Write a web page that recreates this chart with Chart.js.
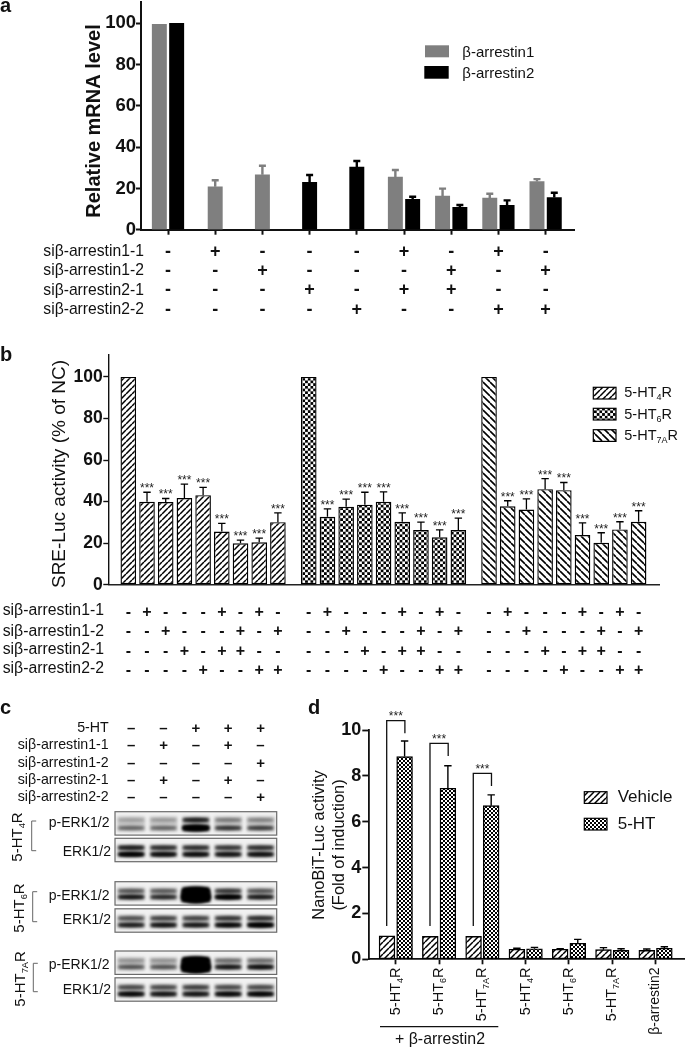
<!DOCTYPE html>
<html><head><meta charset="utf-8">
<style>
html,body{margin:0;padding:0;background:#fff;overflow:hidden}
canvas{position:absolute;filter:blur(.4px)}
</style>
<script src="https://cdn.jsdelivr.net/npm/chart.js@4"></script>
</head><body>
<canvas id="ca" width="685" height="335" style="left:0px;top:0px"></canvas>
<canvas id="cb" width="685" height="345" style="left:0px;top:340px"></canvas>
<canvas id="cc" width="305" height="358" style="left:0px;top:690px"></canvas>
<canvas id="cd" width="380" height="358" style="left:305px;top:690px"></canvas>
<script>
// ---------- data ----------
const rowLabels = ['siβ-arrestin1-1','siβ-arrestin1-2','siβ-arrestin2-1','siβ-arrestin2-2'];
const row11 = ['-','+','-','-','-','+','-','+','-'];
const row12 = ['-','-','+','-','-','-','+','-','+'];
const row21 = ['-','-','-','+','-','+','+','-','-'];
const row22 = ['-','-','-','-','+','-','-','+','+'];

const arr1Values = [99.5,20.8,26.6,null,null,25.5,16.3,15.3,23.3];
const arr1Tops   = [null,24,31,null,null,28.9,19.9,17.4,24.5];
const arr2Values = [100,null,null,22.9,30.4,14.7,10.9,11.8,15.6];
const arr2Tops   = [null,null,null,26.5,33.3,16,12,14.2,17.9];

const ht4Values = [100,39.9,39.8,41.7,43.1,25.6,19.9,20.4,30.1];
const ht4Tops   = [null,44.5,41.5,48.4,46.8,29.5,21.5,22.4,34.6];
const ht6Values = [100,32.7,37.5,38.5,39.9,30.3,26.3,22.8,26.3];
const ht6Tops   = [null,36.5,41.2,44.5,44.7,34.6,30.1,26.4,32];
const ht7Values = [100,37.7,36.2,46,45.5,23.9,20.2,26.6,30.3];
const ht7Tops   = [null,40.4,41.3,51.1,49.2,29.8,25,30.3,35.6];

const laneHT = ['–','–','+','+','+'];
const lane11 = ['–','+','–','+','–'];
const lane12 = ['–','–','–','–','+'];
const lane21 = ['–','+','–','+','–'];
const lane22 = ['–','–','–','–','+'];
// blot band strength per lane: [upper, lower]
const blot4p = [[.12,.32],[.14,.32],[.7,1.5],[.25,.55],[.22,.5]];
const blot4t = [[.7,1],[.6,.85],[.6,.85],[.55,.78],[.6,.82]];
const blot6p = [[.4,.75],[.38,.62],[2,3],[.55,1.05],[.4,.72]];
const blot6t = [[.42,.7],[.48,.78],[.48,.75],[.55,.9],[.6,1.05]];
const blot7p = [[.16,.4],[.16,.4],[2,3],[.3,.75],[.3,.82]];
const blot7t = [[.45,.9],[.45,.78],[.5,.78],[.45,.9],[.45,.95]];

const dLabels = [['5-HT','4','R'],['5-HT','6','R'],['5-HT','7A','R'],['5-HT','4','R'],['5-HT','6','R'],['5-HT','7A','R'],['β-arrestin2']];
const vehicleValues = [1.02,1.0,1.0,.44,.44,.42,.39];
const vehicleTops   = [null,null,null,.48,.46,.51,.45];
const htValues = [8.84,7.46,6.7,.46,.7,.39,.48];
const htTops   = [9.52,8.44,7.17,.52,.87,.46,.55];
const dBrackets = [[10.41,9.86],[9.42,8.87],[8.11,7.56]];

// ---------- helpers ----------
const FF = '"Liberation Sans"';
function f(size, bold){ return (bold?'bold ':'')+size+'px '+FF; }
function hatch(dir, p, lw){
  const c=document.createElement('canvas'); c.width=c.height=p;
  const x=c.getContext('2d'); x.fillStyle='#fff'; x.fillRect(0,0,p,p);
  x.strokeStyle='#000'; x.lineWidth=lw; x.beginPath();
  for(const o of [-p,0,p]){
    if(dir>0){ x.moveTo(o,p); x.lineTo(o+p,0); } else { x.moveTo(o,0); x.lineTo(o+p,p); }
  }
  x.stroke(); return x.createPattern(c,'repeat');
}
function checker(n, k){
  const c=document.createElement('canvas'); c.width=c.height=2*n;
  const x=c.getContext('2d'); x.fillStyle='#fff'; x.fillRect(0,0,2*n,2*n);
  x.fillStyle='#000'; x.fillRect(0,0,n,n); x.fillRect(n,n,n,n);
  const pt=x.createPattern(c,'repeat'); pt.setTransform(new DOMMatrix().scale(k)); return pt;
}
const pHatchUp = hatch(1,6,1.5), pHatchDown = hatch(-1,7,1.6), pCheckB = checker(3,.9), pCheckD = checker(2,1);

// text with optional subscript: runs = ['5-HT','4','R'] or a string
function txt(ctx, runs, x, y, font, o={}){
  const parts = Array.isArray(runs)?runs:[runs];
  const size = parseFloat(font.match(/([\d.]+)px/)[1]);
  const subFont = font.replace(/[\d.]+px/, (size*.62).toFixed(1)+'px');
  ctx.save();
  ctx.translate(x,y); if(o.rot) ctx.rotate(o.rot);
  ctx.fillStyle=o.color||'#111'; ctx.textBaseline='middle'; ctx.textAlign='left';
  let tot=0;
  parts.forEach((s,i)=>{ ctx.font = i%2? subFont:font; tot+=ctx.measureText(s).width; });
  let px = o.align==='right'? -tot : o.align==='center'? -tot/2 : 0;
  parts.forEach((s,i)=>{
    ctx.font = i%2? subFont:font;
    ctx.fillText(s,px, i%2? size*.3:0);
    px+=ctx.measureText(s).width;
  });
  ctx.restore();
}
// error whiskers read from dataset.tops through the library's scales
const whiskers = { id:'whiskers', afterDatasetsDraw(ch,_,opt){
  const c=ch.ctx, ys=ch.scales.y;
  ch.data.datasets.forEach((ds,di)=>{
    if(!ds.tops) return;
    const m=ch.getDatasetMeta(di);
    ds.tops.forEach((t,i)=>{
      if(t==null) return;
      const b=m.data[i], yt=ys.getPixelForValue(t);
      c.strokeStyle=opt.sameColor? ds.backgroundColor:'#000';
      c.lineWidth=opt.lw; c.beginPath();
      c.moveTo(b.x,b.y); c.lineTo(b.x,yt);
      c.moveTo(b.x-opt.cap/2,yt); c.lineTo(b.x+opt.cap/2,yt); c.stroke();
      if(opt.stars) { c.fillStyle='#222'; c.font=f(12,false); c.textAlign='center'; c.textBaseline='alphabetic'; c.fillText('***',b.x,yt); }
    });
  });
}};
function overlay(ox,oy,draw){ return { id:'overlay', afterDraw(ch){ const c=ch.ctx; c.save(); c.translate(-ox,-oy); draw(c,ch,ox,oy); c.restore(); } }; }
function fixed(w){ return s=>{ s.width=w; s.paddingTop=0; s.paddingBottom=0; }; }
function fixedH(h){ return s=>{ s.height=h; s.paddingLeft=0; s.paddingRight=0; }; }
const commonOpts = { responsive:false, animation:false, devicePixelRatio:1, events:[],
  plugins:{legend:{display:false},tooltip:{enabled:false}} };
function axisY(w,max,step,tickLen,lineW,fontSize,pad){ return {
  type:'linear', min:0, max, afterFit:fixed(w),
  border:{color:'#111',width:lineW},
  grid:{display:true,drawOnChartArea:false,drawTicks:true,tickLength:tickLen,tickWidth:lineW,tickColor:'#111'},
  ticks:{stepSize:step,includeBounds:false,color:'#111',padding:pad,font:{family:'Liberation Sans',weight:'bold',size:fontSize}}
};}

// ---------- panel a ----------
const aX = arr1Values.map((_,i)=>i);
new Chart(document.getElementById('ca'),{
  type:'bar',
  data:{datasets:[
    {data:aX.map(i=>({x:i,y:arr1Values[i]})),tops:arr1Tops,backgroundColor:'#7f7f7f',barThickness:17.3,maxBarThickness:14.3,borderWidth:0},
    {data:aX.map(i=>({x:i,y:arr2Values[i]})),tops:arr2Tops,backgroundColor:'#000',barThickness:17.3,maxBarThickness:14.3,borderWidth:0}
  ]},
  options:{...commonOpts,
    layout:{padding:{top:1.7,right:110.3,left:0,bottom:0}},
    datasets:{bar:{skipNull:true}},
    plugins:{...commonOpts.plugins,whiskers:{lw:2.4,cap:7,sameColor:true}},
    scales:{
      x:{type:'linear',offset:false,min:-.572,max:8.616,afterFit:fixedH(335-229.7),
        afterBuildTicks:s=>{s.ticks=aX.map(v=>({value:v}));},
        border:{color:'#111',width:2},
        grid:{display:true,offset:false,drawOnChartArea:false,drawTicks:true,tickLength:5,tickWidth:2,tickColor:'#111'},
        ticks:{autoSkip:false,maxRotation:0,minRotation:0,padding:8,color:'#111',
          font:{family:'Liberation Sans',weight:'bold',size:18,lineHeight:19.1/18},
          callback:(v,i)=>[row11[i],row12[i],row21[i],row22[i]]}},
      y:axisY(141,110.5,20,5,2,18.5,0)
    }},
  plugins:[whiskers,overlay(0,0,(c)=>{
    txt(c,'a',0,6,f(20,true));
    txt(c,'Relative mRNA level',94,121,f(20,true),{rot:-Math.PI/2,align:'center'});
    rowLabels.forEach((s,i)=>txt(c,s,43.3,[251.7,270.7,290.7,309.3][i],f(15.7)));
    c.fillStyle='#7f7f7f'; c.fillRect(425,45.3,24,12);
    c.fillStyle='#000'; c.fillRect(424.3,66,24.4,12.7);
    txt(c,'β-arrestin1',462.3,52.7,f(15));
    txt(c,'β-arrestin2',462.3,74,f(15));
  })]
});

// ---------- panel b ----------
const bOrigin=[0,9.65,19.29];
const bPos = i => i; 
const bSets=[[ht4Values,ht4Tops,pHatchUp],[ht6Values,ht6Tops,pCheckB],[ht7Values,ht7Tops,pHatchDown]];
const bTicks = bOrigin.flatMap(o=>row11.map((_,i)=>o+bPos(i)));
new Chart(document.getElementById('cb'),{
  type:'bar',
  data:{datasets:bSets.map((s,g)=>({
    data:s[0].map((v,i)=>({x:bOrigin[g]+bPos(i),y:v})),tops:s[1],
    backgroundColor:s[2],borderColor:'#000',borderWidth:1.4,borderSkipped:false,
    grouped:false,maxBarThickness:15.6,barPercentage:.95,categoryPercentage:1
  }))},
  options:{...commonOpts,
    layout:{padding:{top:14.5,right:26,left:0,bottom:0}},
    plugins:{...commonOpts.plugins,whiskers:{lw:1.3,cap:7.4,stars:true}},
    scales:{
      x:{type:'linear',offset:false,min:-1.07,max:28.38,afterFit:fixedH(100.3),
        afterBuildTicks:s=>{s.ticks=bTicks.map(v=>({value:v}));},
        border:{color:'#222',width:1.4},grid:{display:false,offset:false,drawTicks:false},
        ticks:{autoSkip:false,maxRotation:0,minRotation:0,padding:18,color:'#111',
          font:{family:'Liberation Sans',weight:'bold',size:16,lineHeight:19.4/16},
          callback:(v,i)=>{const k=i%9;return [row11[k],row12[k],row21[k],row22[k]];}}},
      y:axisY(108.3,110.8,20,5,1.4,17.5,.5)
    }},
  plugins:[whiskers,overlay(0,340,(c)=>{
    txt(c,'b',0,355,f(20,true));
    txt(c,'SRE-Luc activity (% of NC)',60,474,f(19),{rot:-Math.PI/2,align:'center'});
    rowLabels.forEach((s,i)=>txt(c,s,2.7,[610.7,631.7,650,668.3][i],f(15.8)));
    [[pHatchUp,387.3,['5-HT','4','R'],393.3],[pCheckB,408.3,['5-HT','6','R'],414.7],[pHatchDown,429.7,['5-HT','7A','R'],436]].forEach(l=>{
      c.fillStyle=l[0]; c.fillRect(593.3,l[1],22.7,11.7);
      c.strokeStyle='#000'; c.lineWidth=1.2; c.strokeRect(593.3,l[1],22.7,11.7);
      txt(c,l[2],624.3,l[3],f(14.5));
    });
  })]
});

// ---------- panel c ----------
const lanes = laneHT.map((_,i)=>[laneHT[i],lane11[i],lane12[i],lane21[i],lane22[i]]);
const blots=[
  {b:blot4p,top:811.7,u:820,l:828},{b:blot4t,top:838.3,u:847.7,l:854.3},
  {b:blot6p,top:881.7,u:891,l:897},{b:blot6t,top:908.8,u:918.3,l:925},
  {b:blot7p,top:951,u:960.7,l:967},{b:blot7t,top:977.8,u:987.3,l:994}
];
const blotNames=[['p-ERK1/2',109.5,823.3],['ERK1/2',111,851.7],['p-ERK1/2',109.5,895.7],['ERK1/2',111,920],['p-ERK1/2',109.5,964.7],['ERK1/2',111,990]];
new Chart(document.getElementById('cc'),{
  type:'bar',
  data:{labels:lanes,datasets:[{data:[]}]},
  options:{...commonOpts,
    layout:{padding:{top:0,right:28.3,left:0,bottom:44}},
    scales:{
      x:{type:'category',position:'top',afterFit:fixedH(123),offset:true,
        border:{display:false},grid:{display:false,drawTicks:false},
        ticks:{autoSkip:false,maxRotation:0,minRotation:0,padding:6,color:'#111',
          font:{family:'Liberation Sans',weight:'bold',size:15,lineHeight:17.4/15}}},
      y:{display:true,afterFit:fixed(115),border:{display:false},grid:{display:false},ticks:{display:false}}
    }},
  plugins:[overlay(0,690,(c,ch)=>{
    const xs=ch.scales.x;
    txt(c,'c',0,708,f(20,true));
    ['5-HT',...rowLabels].forEach((s,i)=>txt(c,s,108.7,[727.7,745,762.7,780,797.3][i],f(14.2),{align:'right'}));
    blots.forEach(B=>{
      const x0=115,w=161.7,h=23.4;
      c.save();
      c.beginPath(); c.rect(x0,B.top,w,h); c.clip();
      c.fillStyle='#f1f1f1'; c.fillRect(x0,B.top,w,h);
      c.filter='blur(1.7px)';
      B.b.forEach((p,i)=>{
        const cx=xs.getPixelForValue(i);
        c.globalAlpha=.16; c.fillStyle='#000';
        c.fillRect(cx-14,B.u-3.5,28,B.l-B.u+7);
        [[B.u,p[0]],[B.l,p[1]]].forEach(([y,v])=>{
          const hw=13.5*(v>1?1+.07*(v-1):1), th=3.4*Math.max(1,v);
          c.globalAlpha=Math.min(1,v);
          c.fillStyle='#000';
          c.beginPath(); c.ellipse(cx,y,hw,th/1.5,0,0,Math.PI*2); c.fill();
          c.fillRect(cx-hw+1,y-th/2,2*hw-2,th);
        });
      });
      c.restore();
      c.strokeStyle='#6a6a6a'; c.lineWidth=1.2; c.strokeRect(x0,B.top,w,h);
    });
    blotNames.forEach(n=>txt(c,n[0],n[1],n[2],f(14),{align:'right'}));
    [[['5-HT','4','R'],18.3,861.7,31.7,821,850.7],[['5-HT','6','R'],20,932.7,32.7,891.7,921.7],[['5-HT','7A','R'],20.7,1006.7,33.3,963.3,991.7]].forEach(r=>{
      txt(c,r[0],r[1],r[2],f(15),{rot:-Math.PI/2});
      c.strokeStyle='#666'; c.lineWidth=1; c.beginPath();
      c.moveTo(r[3]+4.5,r[4]); c.lineTo(r[3],r[4]); c.lineTo(r[3],r[5]); c.lineTo(r[3]+4.5,r[5]); c.stroke();
    });
  })]
});

// ---------- panel d ----------
const dX = dLabels.map((_,i)=>i);
new Chart(document.getElementById('cd'),{
  type:'bar',
  data:{datasets:[
    {data:dX.map(i=>({x:i,y:vehicleValues[i]})),tops:vehicleTops,backgroundColor:pHatchUp,borderColor:'#000',borderWidth:1.4,borderSkipped:false,barThickness:17.6,maxBarThickness:15.8},
    {data:dX.map(i=>({x:i,y:htValues[i]})),tops:htTops,backgroundColor:pCheckD,borderColor:'#000',borderWidth:1.4,borderSkipped:false,barThickness:17.6,maxBarThickness:15.8}
  ]},
  options:{...commonOpts,
    layout:{padding:{top:40,right:0,left:0,bottom:0}},
    plugins:{...commonOpts.plugins,whiskers:{lw:1.4,cap:7.4}},
    scales:{
      x:{type:'linear',offset:false,min:-.612,max:6.68,afterFit:fixedH(88.7),
        afterBuildTicks:s=>{s.ticks=dX.map(v=>({value:v}));},
        border:{color:'#111',width:1.8},
        grid:{display:true,offset:false,drawOnChartArea:false,drawTicks:true,tickLength:5,tickWidth:1.8,tickColor:'#111'},
        ticks:{display:false}},
      y:{...axisY(64.3,10,2,7,1.8,18,1)}
    }},
  plugins:[whiskers,overlay(305,690,(c,ch)=>{
    const xs=ch.scales.x, ys=ch.scales.y;
    txt(c,'d',308,708,f(20,true));
    txt(c,'NanoBiT-Luc activity',319,845,f(16.4),{rot:-Math.PI/2,align:'center'});
    txt(c,'(Fold of induction)',339.3,845,f(16.4),{rot:-Math.PI/2,align:'center'});
    dLabels.forEach((l,i)=>{
      txt(c,l,xs.getPixelForValue(i)+305,967.5,f(i==6?14:14.5),{rot:-Math.PI/2,align:'right'});
    });
    c.strokeStyle='#111'; c.lineWidth=1.2; c.beginPath(); c.moveTo(380,1026.7); c.lineTo(498.3,1026.7); c.stroke();
    txt(c,'+ β-arrestin2',440,1040,f(15.9),{align:'center'});
    dBrackets.forEach((b,i)=>{
      const cx=xs.getPixelForValue(i)+305, top=ys.getPixelForValue(b[0])+690, end=ys.getPixelForValue(b[1])+690, bot=ys.getPixelForValue(1.45)+690;
      c.strokeStyle='#111'; c.lineWidth=1.3; c.beginPath();
      c.moveTo(cx-9.1,bot); c.lineTo(cx-9.1,top); c.lineTo(cx+9.1,top); c.lineTo(cx+9.1,end); c.stroke();
      c.fillStyle='#222'; c.font=f(12); c.textAlign='center'; c.textBaseline='alphabetic'; c.fillText('***',cx,top-.5);
    });
    [[pHatchUp,791.7,'Vehicle',797.3],[pCheckD,818.3,'5-HT',824.3]].forEach(l=>{
      c.fillStyle=l[0]; c.fillRect(584.3,l[1],22.7,11.7);
      c.strokeStyle='#000'; c.lineWidth=1.2; c.strokeRect(584.3,l[1],22.7,11.7);
      txt(c,l[2],617.7,l[3],f(17));
    });
  })]
});
</script>
</body></html>
